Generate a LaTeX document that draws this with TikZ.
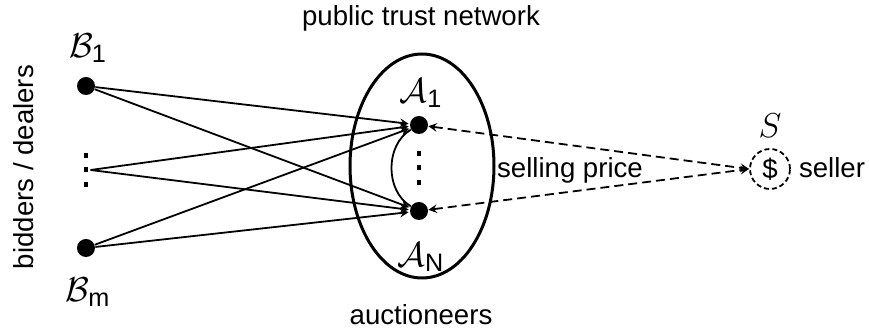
\documentclass[tikz,border=0pt]{standalone}
\usepackage{amsmath}
\usepackage{fontspec}
\setmainfont{Liberation Sans}
\usetikzlibrary{shapes.geometric}
\newcommand{\dotcol}{\vbox{\offinterlineskip\hbox{\rule{2.2pt}{2.5pt}}\vskip4.8pt\hbox{\rule{2.2pt}{2.5pt}}\vskip4.8pt\hbox{\rule{2.2pt}{2.5pt}}}}
\tikzstyle{party}=[circle,fill=black,inner sep=0pt,minimum size=9pt]
\tikzstyle{agentname}=[font=\fontsize{18}{20}\selectfont]
\tikzstyle{bid}=[->,line width=0.9pt,>=stealth,shorten >=0.5pt]
\tikzstyle{price}=[<->,line width=0.9pt,>=stealth,dash pattern=on 4.5pt off 2.5pt]

\begin{document}
\begin{tikzpicture}[x=0.5pt,y=-0.5pt,font=\fontsize{13.8}{16}\selectfont]
  \useasboundingbox (0,0) rectangle (869,330);

  \node[party] (B1) at (86,86) {};
  \node[inner sep=1pt] (Bd) at (86,170) {\dotcol};
  \node[party] (Bm) at (86,248) {};
  \node[agentname] (B1l) at (88,48) {$\mathcal{B}_{\text{1}}$};
  \node[agentname] (Bml) at (88,292) {$\mathcal{B}_{\text{m}}$};
  \node[rotate=90] (bid) at (24,167) {bidders / dealers};

  \node[ellipse,draw,line width=1.5pt,minimum width=72pt,minimum height=112pt] (net) at (422,166) {};
  \node[party] (A1) at (419,125) {};
  \node[inner sep=1pt] (Ad) at (419,168) {\dotcol};
  \node[party] (AN) at (419,211) {};
  \node[agentname] (A1l) at (421,93) {$\mathcal{A}_{\text{1}}$};
  \node[agentname] (ANl) at (421,257) {$\mathcal{A}_{\text{N}}$};
  \node (ptn) at (421,18) {public trust network};
  \node (auc) at (421,315) {auctioneers};

  \node[circle,draw,line width=0.9pt,dash pattern=on 2.5pt off 1.5pt,minimum size=20pt,inner sep=0pt] (S) at (770,169) {\$};
  \node[agentname] (Sl) at (770,126) {$S$};
  \node (sel) at (832,168) {seller};

  \draw[bid] (B1)--(A1); \draw[bid] (B1)--(AN); \draw[bid] (Bd.east)--(A1); \draw[bid] (Bd.east)--(AN); \draw[bid] (Bm)--(A1); \draw[bid] (Bm)--(AN);
  \draw[line width=0.9pt] (A1)to[bend right=60](AN);
  %
  \draw[price] (A1)--(S.west); \draw[price] (AN)--(S.west);
  \node (sp) at (570,170) {selling price};

\end{tikzpicture}
\end{document}
